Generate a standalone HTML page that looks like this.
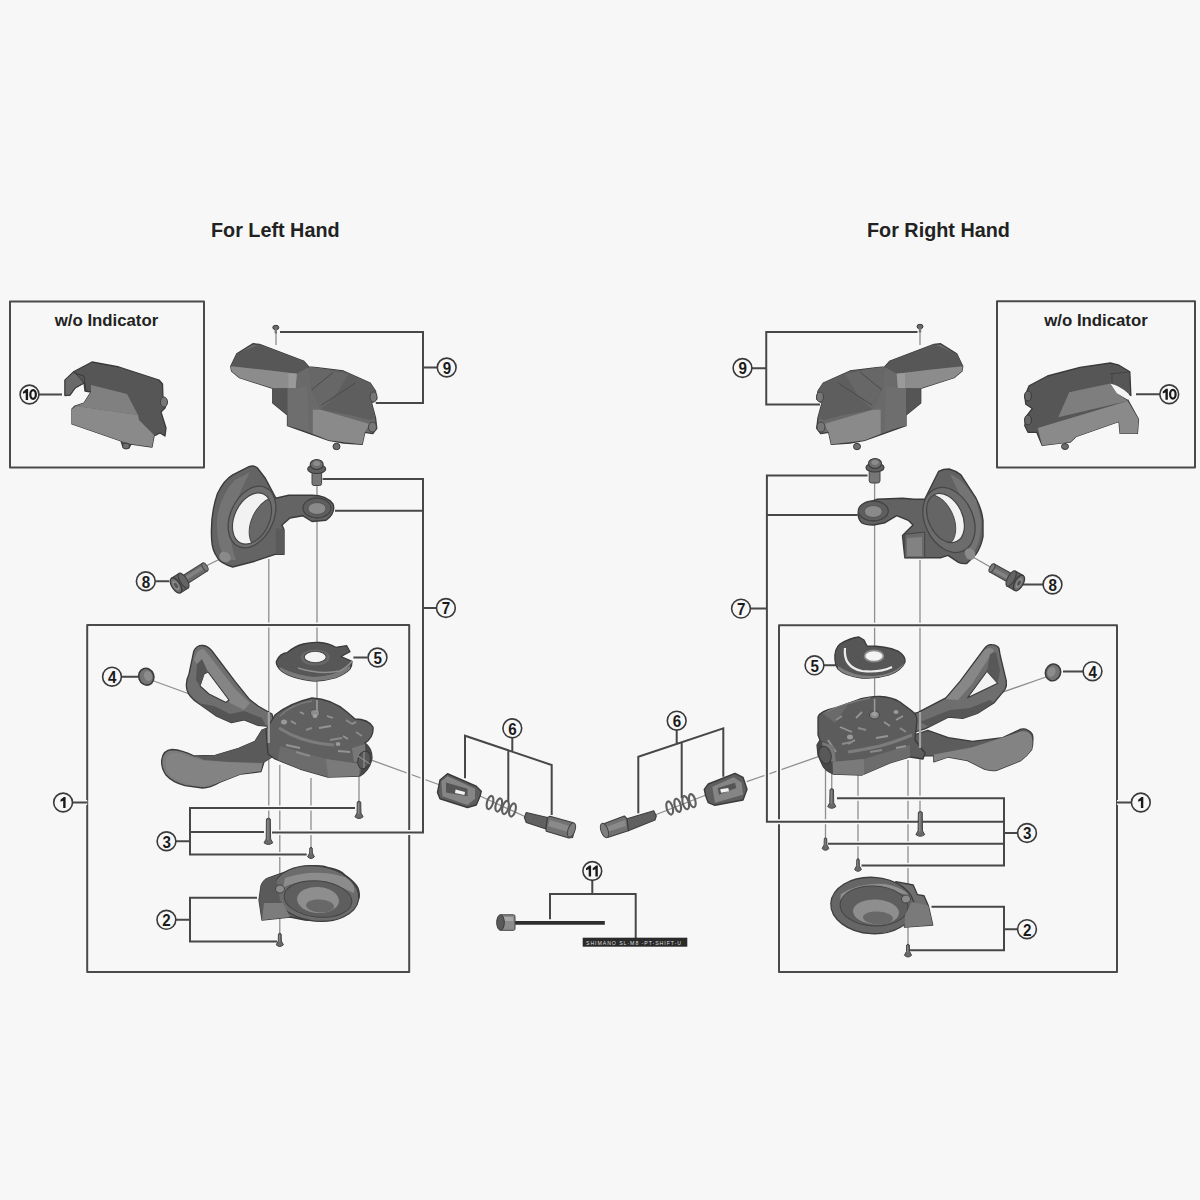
<!DOCTYPE html>
<html><head><meta charset="utf-8"><style>
html,body{margin:0;padding:0;background:#f7f7f7;}
svg{display:block;font-family:"Liberation Sans",sans-serif;-webkit-font-smoothing:antialiased;}
</style></head><body>
<svg width="1200" height="1200" viewBox="0 0 1200 1200">
<rect width="1200" height="1200" fill="#f7f7f7"/>
<text x="211" y="237" font-size="19.8" font-weight="bold" fill="#222">For Left Hand</text>
<text x="867" y="237" font-size="19.8" font-weight="bold" fill="#222">For Right Hand</text>
<text x="106.5" y="326" font-size="16.8" font-weight="bold" text-anchor="middle" fill="#222">w/o Indicator</text>
<text x="1096" y="326" font-size="16.8" font-weight="bold" text-anchor="middle" fill="#222">w/o Indicator</text>
<path d="M268.8,559 V818" fill="none" stroke="#8e8e8e" stroke-width="1.3"/>
<path d="M317,485 V705" fill="none" stroke="#8e8e8e" stroke-width="1.3"/>
<path d="M279.8,765 V935" fill="none" stroke="#8e8e8e" stroke-width="1.3"/>
<path d="M311,778 V848" fill="none" stroke="#8e8e8e" stroke-width="1.3"/>
<path d="M359,777 V801" fill="none" stroke="#8e8e8e" stroke-width="1.3"/>
<path d="M153.7,681 L440,785" fill="none" stroke="#8e8e8e" stroke-width="1.3"/>
<path d="M874.6,482 V703" fill="none" stroke="#8e8e8e" stroke-width="1.3"/>
<path d="M920,560 V812" fill="none" stroke="#8e8e8e" stroke-width="1.3"/>
<path d="M908,760 V945" fill="none" stroke="#8e8e8e" stroke-width="1.3"/>
<path d="M831.75,770 V789" fill="none" stroke="#8e8e8e" stroke-width="1.3"/>
<path d="M825.5,770 V838" fill="none" stroke="#8e8e8e" stroke-width="1.3"/>
<path d="M858,775 V859" fill="none" stroke="#8e8e8e" stroke-width="1.3"/>
<path d="M1046,677 L746.7,781.7" fill="none" stroke="#8e8e8e" stroke-width="1.3"/>
<path d="M276,332 V345" fill="none" stroke="#8e8e8e" stroke-width="1.3"/>
<path d="M204,567 L228,555" fill="none" stroke="#8e8e8e" stroke-width="1.3"/>
<path d="M992,568 L966,553" fill="none" stroke="#8e8e8e" stroke-width="1.3"/>
<path d="M480,796 L526,817" fill="none" stroke="#8e8e8e" stroke-width="1.3"/>
<path d="M706,795 L655,815" fill="none" stroke="#8e8e8e" stroke-width="1.3"/>
<path d="M920,330 V345" fill="none" stroke="#8e8e8e" stroke-width="1.3"/>
<rect x="10" y="301.5" width="194" height="166" fill="none" stroke="#f7f7f7" stroke-width="5"/>
<rect x="10" y="301.5" width="194" height="166" fill="none" stroke="#4a4a4a" stroke-width="2" stroke-linejoin="round"/>
<rect x="997" y="301.25" width="198" height="166.25" fill="none" stroke="#f7f7f7" stroke-width="5"/>
<rect x="997" y="301.25" width="198" height="166.25" fill="none" stroke="#4a4a4a" stroke-width="2" stroke-linejoin="round"/>
<rect x="87.2" y="625" width="322" height="347" fill="none" stroke="#f7f7f7" stroke-width="5"/>
<rect x="87.2" y="625" width="322" height="347" fill="none" stroke="#4a4a4a" stroke-width="2" stroke-linejoin="round"/>
<rect x="779" y="625.2" width="338" height="346.8" fill="none" stroke="#f7f7f7" stroke-width="5"/>
<rect x="779" y="625.2" width="338" height="346.8" fill="none" stroke="#4a4a4a" stroke-width="2" stroke-linejoin="round"/>
<path d="M280,332 H423 V403 H375.8 M423,367.5 H437" fill="none" stroke="#f7f7f7" stroke-width="5"/>
<path d="M280,332 H423 V403 H375.8 M423,367.5 H437" fill="none" stroke="#474747" stroke-width="2.0"/>
<path d="M917.5,332 H766.25 V404.6 H820 M752,368.2 H766.25" fill="none" stroke="#f7f7f7" stroke-width="5"/>
<path d="M917.5,332 H766.25 V404.6 H820 M752,368.2 H766.25" fill="none" stroke="#474747" stroke-width="2.0"/>
<path d="M322.6,479 H423 V832.5 H272 M335,510.7 H423 M423,608 H436" fill="none" stroke="#f7f7f7" stroke-width="5"/>
<path d="M322.6,479 H423 V832.5 H272 M335,510.7 H423 M423,608 H436" fill="none" stroke="#474747" stroke-width="2.0"/>
<path d="M867.5,475.4 H766.9 V821.8 H919.3 M857.6,515 H766.9 M750.5,608.6 H766.9" fill="none" stroke="#f7f7f7" stroke-width="5"/>
<path d="M867.5,475.4 H766.9 V821.8 H919.3 M857.6,515 H766.9 M750.5,608.6 H766.9" fill="none" stroke="#474747" stroke-width="2.0"/>
<path d="M72.6,802.5 H87.2 M1117,802.5 H1131" fill="none" stroke="#f7f7f7" stroke-width="5"/>
<path d="M72.6,802.5 H87.2 M1117,802.5 H1131" fill="none" stroke="#474747" stroke-width="2.0"/>
<path d="M355,808 H190 V854.6 H306.7 M190,832 H264 M176,841.25 H190" fill="none" stroke="#f7f7f7" stroke-width="5"/>
<path d="M355,808 H190 V854.6 H306.7 M190,832 H264 M176,841.25 H190" fill="none" stroke="#474747" stroke-width="2.0"/>
<path d="M837,798.3 H1004 V865.5 H861.5 M919,821.8 H1004 M828,843.8 H1004 M1004,833 H1017" fill="none" stroke="#f7f7f7" stroke-width="5"/>
<path d="M837,798.3 H1004 V865.5 H861.5 M919,821.8 H1004 M828,843.8 H1004 M1004,833 H1017" fill="none" stroke="#474747" stroke-width="2.0"/>
<path d="M257,897.7 H190 V941.6 H277 M176,919.8 H190" fill="none" stroke="#f7f7f7" stroke-width="5"/>
<path d="M257,897.7 H190 V941.6 H277 M176,919.8 H190" fill="none" stroke="#474747" stroke-width="2.0"/>
<path d="M931.5,906.8 H1004 V950.2 H908.8 M1004,929.2 H1017" fill="none" stroke="#f7f7f7" stroke-width="5"/>
<path d="M931.5,906.8 H1004 V950.2 H908.8 M1004,929.2 H1017" fill="none" stroke="#474747" stroke-width="2.0"/>
<path d="M39,394.5 H62 M1136,394.25 H1160" fill="none" stroke="#f7f7f7" stroke-width="5"/>
<path d="M39,394.5 H62 M1136,394.25 H1160" fill="none" stroke="#474747" stroke-width="2.0"/>
<path d="M155.8,581.25 H169.2 M1023,584.5 H1043" fill="none" stroke="#f7f7f7" stroke-width="5"/>
<path d="M155.8,581.25 H169.2 M1023,584.5 H1043" fill="none" stroke="#474747" stroke-width="2.0"/>
<path d="M353.4,657.5 H367.6 M824,665.3 H836" fill="none" stroke="#f7f7f7" stroke-width="5"/>
<path d="M353.4,657.5 H367.6 M824,665.3 H836" fill="none" stroke="#474747" stroke-width="2.0"/>
<path d="M122,676.7 H138 M1063,671.5 H1083" fill="none" stroke="#f7f7f7" stroke-width="5"/>
<path d="M122,676.7 H138 M1063,671.5 H1083" fill="none" stroke="#474747" stroke-width="2.0"/>
<path d="M512.3,737.7 V751.7 M465,778.3 V735.7 L551.7,765 V815 M508.3,750.3 V801.7" fill="none" stroke="#f7f7f7" stroke-width="5"/>
<path d="M512.3,737.7 V751.7 M465,778.3 V735.7 L551.7,765 V815 M508.3,750.3 V801.7" fill="none" stroke="#474747" stroke-width="2.0"/>
<path d="M676.7,730.3 V744 M638.3,813.3 V756.7 L723.3,728.3 V776.7 M681.7,742 V798.3" fill="none" stroke="#f7f7f7" stroke-width="5"/>
<path d="M676.7,730.3 V744 M638.3,813.3 V756.7 L723.3,728.3 V776.7 M681.7,742 V798.3" fill="none" stroke="#474747" stroke-width="2.0"/>
<path d="M592.3,880.6 V894 M550,919.3 V894 H635.7 V938.3" fill="none" stroke="#f7f7f7" stroke-width="5"/>
<path d="M592.3,880.6 V894 M550,919.3 V894 H635.7 V938.3" fill="none" stroke="#474747" stroke-width="2.0"/>
<polygon points="65,380 74,371.5 92,362 119,367 159,380 162.5,384 163,398 167,402 165,408 161,412 166,428 165,436 160,433 154,436 152,447 131,444 129,448 123,447 121,441 72,424 72,409 75,406 84,403 91,392 85,391 84,383 75,388 70,395 65,395.5" fill="#565656" stroke="#3a3a3a" stroke-width="1.3" stroke-linejoin="round" />
<polygon points="91,385 127,394 138,415 76,406 84,403 91,392" fill="#808080" stroke="none" stroke-width="1.2" stroke-linejoin="round" />
<polygon points="72,409 76,406 138,415 139,420 154,435 152,447 131,444 121,441 72,424" fill="#8a8a8a" stroke="none" stroke-width="1.2" stroke-linejoin="round" />
<polygon points="65,380 74,371.5 84,383 75,388 70,395 65,395.5" fill="#6a6a6a" stroke="#3a3a3a" stroke-width="1" stroke-linejoin="round" />
<path d="M74,373 L84,376 L86,391" stroke="#3a3a3a" stroke-width="1" fill="none"/>
<ellipse cx="164" cy="402" rx="3.5" ry="5" fill="#777" stroke="#444" stroke-width="1" transform="rotate(0 164 402)"/>
<ellipse cx="126" cy="446" rx="3.5" ry="3" fill="#6e6e6e" stroke="#3a3a3a" stroke-width="1" transform="rotate(0 126 446)"/>
<ellipse cx="275.8" cy="327.5" rx="3" ry="2.2" fill="#6a6a6a" stroke="#3a3a3a" stroke-width="1" transform="rotate(0 275.8 327.5)"/>
<rect x="274.6" y="328.5" width="2.4" height="5" fill="#777"/>
<path d="M211.7,540 Q210,515 217.5,493.5 Q224,480 232.7,474.8 L249,466.7 Q254,465 257.2,467.8 L265.3,478.3 L275.8,498.2 L288.7,495.3 L310.9,495.3 Q326,495 333,504 Q336,513 326,520.3 L312,521.5 L302.7,515.7 L290,518 L282,525 L284,529.7 L284,554.2 L275.8,554.2 L254.8,561.2 L232.7,567 Q220,563 217.5,557.7 Q212,550 211.7,540 Z" fill="#646464" stroke="#3a3a3a" stroke-width="1.4" stroke-linejoin="round"/>
<path d="M217,520 Q220,495 235,480 L250,472 Q240,490 232,515 Q228,540 236,560 L226,560 Q216,545 217,520 Z" fill="#747474" stroke="none" stroke-width="1.2" stroke-linejoin="round"/>
<ellipse cx="252" cy="517" rx="21.5" ry="32.5" fill="#6e6e6e" stroke="#474747" stroke-width="1.3" transform="rotate(25 252 517)"/>
<clipPath id="c7L"><ellipse cx="252" cy="518.5" rx="17.5" ry="27" transform="rotate(25 252 518.5)"/></clipPath>
<ellipse cx="252" cy="518.5" rx="17.5" ry="27" fill="#f2f2f2" stroke="none" stroke-width="1.2" transform="rotate(25 252 518.5)"/>
<g clip-path="url(#c7L)">
<ellipse cx="268" cy="523" rx="16.5" ry="27" fill="#686868" stroke="#4a4a4a" stroke-width="1" transform="rotate(25 268 523)"/>
</g>
<ellipse cx="252" cy="518.5" rx="17.5" ry="27" fill="none" stroke="#454545" stroke-width="1.2" transform="rotate(25 252 518.5)"/>
<polygon points="276,528 284,529.7 284,554.2 275.8,554.2" fill="#5a5a5a" stroke="none" stroke-width="1.2" stroke-linejoin="round" />
<ellipse cx="317" cy="508" rx="14" ry="10" fill="#5e5e5e" stroke="#444" stroke-width="1.3" transform="rotate(0 317 508)"/>
<ellipse cx="317" cy="508.5" rx="9" ry="6" fill="#8a8a8a" stroke="#555" stroke-width="1" transform="rotate(0 317 508.5)"/>
<ellipse cx="225" cy="557" rx="6" ry="5" fill="#8a8a8a" stroke="none" stroke-width="1.2" transform="rotate(30 225 557)"/>
<rect x="312" y="470" width="9.6" height="15.5" rx="2" fill="#767676" stroke="#444" stroke-width="1"/>
<ellipse cx="316.7" cy="469" rx="9" ry="4.5" fill="#606060" stroke="#3a3a3a" stroke-width="1.2" transform="rotate(0 316.7 469)"/>
<ellipse cx="316.7" cy="464.5" rx="6.5" ry="5" fill="#6e6e6e" stroke="#3a3a3a" stroke-width="1.1" transform="rotate(0 316.7 464.5)"/>
<ellipse cx="316.7" cy="463.5" rx="3.5" ry="2.5" fill="#8c8c8c" stroke="none" stroke-width="1.2" transform="rotate(0 316.7 463.5)"/>
<polygon points="186.1,584.5 207.5,570.9 202.5,563.1 181.1,576.8" fill="#6c6c6c" stroke="#444" stroke-width="1.1" stroke-linejoin="round" />
<polygon points="184.1,581.5 205.5,567.8 203.7,564.9 182.2,578.6" fill="#828282" stroke="none" stroke-width="1.2" stroke-linejoin="round" />
<ellipse cx="205" cy="567" rx="2.2" ry="4.6" fill="#7a7a7a" stroke="#444" stroke-width="1" transform="rotate(-32.53506715793501 205 567)"/>
<polygon points="180.6,592.8 188.2,587.9 179.0,573.4 171.4,578.2" fill="#5e5e5e" stroke="#3e3e3e" stroke-width="1.2" stroke-linejoin="round" />
<ellipse cx="183.58756196390485" cy="580.6596587471641" rx="3.5" ry="8.6" fill="#646464" stroke="#3e3e3e" stroke-width="1.1" transform="rotate(-32.53506715793501 183.58756196390485 580.6596587471641)"/>
<ellipse cx="176" cy="585.5" rx="4.2" ry="8.6" fill="#6e6e6e" stroke="#3a3a3a" stroke-width="1.3" transform="rotate(-32.53506715793501 176 585.5)"/>
<ellipse cx="176" cy="585.5" rx="2.6" ry="5.4" fill="#8a8a8a" stroke="none" stroke-width="1.2" transform="rotate(-32.53506715793501 176 585.5)"/>
<ellipse cx="176" cy="585.5" rx="1.6" ry="3.0" fill="#555" stroke="none" stroke-width="1.2" transform="rotate(-32.53506715793501 176 585.5)"/>
<ellipse cx="146.3" cy="676.7" rx="7.5" ry="8.5" fill="#747474" stroke="#3a3a3a" stroke-width="1.6" transform="rotate(-20 146.3 676.7)"/>
<ellipse cx="148" cy="676" rx="4" ry="5" fill="#8c8c8c" stroke="none" stroke-width="1.2" transform="rotate(-20 148 676)"/>
<path d="M276.3,661.4 Q280,653 287,652.75 Q295,646 303.3,644 Q311,642 319.6,642.5 Q328,643 335.8,647.3 L346.7,645.7 L350,651.7 L341,656.5 L352,661.4 Q352,666 350,669 Q345,674 335.8,677.7 Q325,681 314.2,681 Q302,680 292.5,676.6 Q283,673 279.5,669 Q276,665 276.3,661.4 Z" fill="#575757" stroke="#3a3a3a" stroke-width="1.3" stroke-linejoin="round"/>
<path d="M279.5,667 Q295,675 314,677 Q335,676 350,666 L350,669 Q345,674 335.8,677.7 Q325,681 314.2,681 Q302,680 292.5,676.6 Q283,673 279.5,669 Z" fill="#7a7a7a" stroke="none" stroke-width="1.2" stroke-linejoin="round"/>
<path d="M298,668 Q320,675 340,671 Q348,667 352,661" stroke="#8e8e8e" stroke-width="1.5" fill="none"/>
<ellipse cx="315.25" cy="657.5" rx="14.6" ry="8" fill="#686868" stroke="none" stroke-width="1.2" transform="rotate(0 315.25 657.5)"/>
<ellipse cx="315.25" cy="657" rx="11" ry="5.7" fill="#f4f4f4" stroke="#4a4a4a" stroke-width="1.1" transform="rotate(0 315.25 657)"/>
<path d="M193.8,651 Q197,645 203,645.5 Q208,646 212,651 L235,681.3 L249.7,699.6 L258,706 L272,714 L275,726 L266.2,726.2 L258,725.3 L244.2,719.8 L231.4,722.6 L216.7,716.1 L198.3,703.3 Q189,697 187,690 Q185,682 189,674 Z" fill="#6e6e6e" stroke="#3a3a3a" stroke-width="1.3" stroke-linejoin="round"/>
<path d="M194,660 Q197,648 204,649 L236,690 L250,703 L244,710 L230,703 L206,676 Z" fill="#858585" stroke="none" stroke-width="1.2" stroke-linejoin="round"/>
<polygon points="204,674 208,672 229,700 226,702.5 209,694 200,686" fill="#f3f3f3" stroke="#3a3a3a" stroke-width="1.1" stroke-linejoin="round" />
<polygon points="197,664 202,659 208,672 204,674 200,686 196,680" fill="#555" stroke="none" stroke-width="1.2" stroke-linejoin="round" />
<path d="M198.3,703.3 L216.7,716.1 L231.4,722.6 L244.2,719.8 L258,725.3 L266,726 L262,718 L244,711 L230,714 L214,706 Z" fill="#555" stroke="none" stroke-width="1.2" stroke-linejoin="round"/>
<path d="M161.7,760 Q163,750 172,749.5 Q182,750 194.3,756 L215.3,755.3 L238.7,748.3 L255,741.3 L262,730 L272,726 L275,755 L264,762 L260.9,771.7 L241,774 L220,782.2 Q210,788 202.5,788 L185,785.7 Q172,782 166,775 Q161,768 161.7,760 Z" fill="#7c7c7c" stroke="#3a3a3a" stroke-width="1.3" stroke-linejoin="round"/>
<path d="M194.3,756 L215.3,755.3 L238.7,748.3 L255,741.3 L262,730 L272,726 L274,756 L262,763 L230,762 L204,760 Z" fill="#5a5a5a" stroke="none" stroke-width="1.2" stroke-linejoin="round"/>
<path d="M166,758 Q170,752 178,753 Q190,757 204,761 L262,764 L261,771 L241,774 L220,782 Q208,787 196,786 Q180,783 170,776 Q164,769 166,758 Z" fill="#838383" stroke="none" stroke-width="1.2" stroke-linejoin="round"/>
<path d="M275,715 Q290,703 312,698 Q332,699 347,712 L355,719 Q368,719 373,727 Q374,737 365,743 Q372,748 372,758 Q370,770 360,776 L328,777 L300,769 L275,759 L268,754 L266,730 Z" fill="#606060" stroke="#3a3a3a" stroke-width="1.3" stroke-linejoin="round"/>
<path d="M280,746 L326,759 L360,764 L359,776 L328,777 L300,769 L278,760 Z" fill="#6c6c6c" stroke="none" stroke-width="1.2" stroke-linejoin="round"/>
<path d="M326,759 L360,764 L359,776 L328,777 Z" fill="#7a7a7a" stroke="none" stroke-width="1.2" stroke-linejoin="round"/>
<path d="M360,776 Q370,770 372,758 Q372,748 365,743 L360,752 L362,764 Z" fill="#484848" stroke="none" stroke-width="1.2" stroke-linejoin="round"/>
<path d="M280,716 Q292,704 312,701" stroke="#7a7a7a" stroke-width="1.4" fill="none"/>
<path d="M279,728 Q290,735 302,739 Q318,744 334,745" stroke="#7c7c7c" stroke-width="3" fill="none"/>
<path d="M291,721 L296,724 M319,728 L331,726 M343,736 L348,739 M300,712 L304,714 M327,716 L333,718 M352,724 L356,722 M286,745 L300,748 M338,751 L350,752" stroke="#949494" stroke-width="1.8" fill="none"/>
<path d="M352,748 L365,744 L366,760 L354,762 Z" fill="#777" stroke="none" stroke-width="1.2" stroke-linejoin="round"/>
<path d="M306,730 L312,728 M346,720 L352,724 M296,752 L310,756 M330,740 L342,738 M356,732 L362,736" stroke="#8a8a8a" stroke-width="2" fill="none"/>
<ellipse cx="284" cy="722" rx="3" ry="2.5" fill="#999" stroke="none" stroke-width="1.2" transform="rotate(0 284 722)"/>
<ellipse cx="338" cy="744" rx="2.5" ry="2" fill="#999" stroke="none" stroke-width="1.2" transform="rotate(0 338 744)"/>
<ellipse cx="315" cy="713" rx="4.5" ry="3.5" fill="#8c8c8c" stroke="#555" stroke-width="1" transform="rotate(0 315 713)"/>
<ellipse cx="315" cy="716" rx="2.5" ry="2" fill="#a0a0a0" stroke="none" stroke-width="1.2" transform="rotate(0 315 716)"/>
<ellipse cx="364" cy="760" rx="6" ry="9" fill="#585858" stroke="#3a3a3a" stroke-width="1" transform="rotate(15 364 760)"/>
<path d="M358,756 L370,764 M364,752 L364,768" stroke="#999" stroke-width="1" fill="none"/>
<path d="M357.275,802 Q359,800.2 360.725,802 L360.955,813 L363.1,816.8 Q359,820.2 354.9,816.8 L357.045,813 Z" fill="#6a6a6a" stroke="#444" stroke-width="1"/>
<path d="M358.54,803 V814" stroke="#8a8a8a" stroke-width="1.15" fill="none"/>
<path d="M266.45,819 Q268.4,817.2 270.34999999999997,819 L270.60999999999996,839 L272.8,842.8 Q268.4,846.2 263.99999999999994,842.8 L266.19,839 Z" fill="#6a6a6a" stroke="#444" stroke-width="1"/>
<path d="M267.88,820 V840" stroke="#8a8a8a" stroke-width="1.3" fill="none"/>
<path d="M309.8,848 Q311,846.2 312.2,848 L312.36,853 L314.40000000000003,856.8 Q311,860.2 307.59999999999997,856.8 L309.64,853 Z" fill="#6a6a6a" stroke="#444" stroke-width="1"/>
<path d="M310.68,849 V854" stroke="#8a8a8a" stroke-width="0.8" fill="none"/>
<path d="M278.45,934 Q279.8,932.2 281.15000000000003,934 L281.33,941 L283.40000000000003,944.8 Q279.8,948.2 276.2,944.8 L278.27000000000004,941 Z" fill="#6a6a6a" stroke="#444" stroke-width="1"/>
<path d="M279.44,935 V942" stroke="#8a8a8a" stroke-width="0.9" fill="none"/>
<path d="M262,920 L259,900 L261,886 Q263,880 268,878 L285,872 L310,866 Q322,865 330,868 Q340,870 345,875 Q355,882 358,888 Q360,894 359,898 Q357,904 353,908 L340,917 Q330,921 320,921 L305,920 L290,917 Z" fill="#646464" stroke="#3a3a3a" stroke-width="1.3" stroke-linejoin="round"/>
<ellipse cx="316" cy="893.5" rx="43" ry="27.5" fill="#6c6c6c" stroke="#3e3e3e" stroke-width="1.2" transform="rotate(8 316 893.5)"/>
<path d="M285,878 Q315,868 345,877 Q356,884 354,893 Q330,880 300,882 Q288,884 283,888 Z" fill="#8c8c8c" stroke="none" stroke-width="1.2" stroke-linejoin="round"/>
<ellipse cx="318" cy="899" rx="34" ry="18" fill="#5e5e5e" stroke="#444" stroke-width="1" transform="rotate(6 318 899)"/>
<ellipse cx="318" cy="900" rx="21" ry="13" fill="#8e8e8e" stroke="none" stroke-width="1.2" transform="rotate(4 318 900)"/>
<ellipse cx="320" cy="906" rx="14" ry="6.5" fill="#686868" stroke="none" stroke-width="1.2" transform="rotate(4 320 906)"/>
<path d="M262,920 L259,900 L261,886 Q263,880 268,878 L276,876 L280,900 L290,917 Z" fill="#5a5a5a" stroke="none" stroke-width="1.2" stroke-linejoin="round"/>
<path d="M264,903 L283,903 L290,917 L262,920 Z" fill="#7c7c7c" stroke="none" stroke-width="1.2" stroke-linejoin="round"/>
<ellipse cx="280" cy="889" rx="4.5" ry="4" fill="#8a8a8a" stroke="#444" stroke-width="1" transform="rotate(0 280 889)"/>
<polygon points="437.5,792.5 440,780 447.5,773.75 476.25,786.25 481.25,791.25 480,796.25 476.25,805 467.5,807.5 440,798.75" fill="#5e5e5e" stroke="#3a3a3a" stroke-width="1.4" stroke-linejoin="round" />
<polygon points="441.25,781.25 447.5,776.25 475,788.75 475,798.75 467.5,805 442.5,796.25" fill="#858585" stroke="none" stroke-width="1.2" stroke-linejoin="round" />
<polygon points="446,782.5 467.5,788.75 467.5,796.25 446,792.5" fill="#555" stroke="none" stroke-width="1.2" stroke-linejoin="round" />
<polygon points="455.6,789.4 465,791.9 464.4,795 455,793" fill="#f2f2f2" stroke="none" stroke-width="1.2" stroke-linejoin="round" />
<ellipse cx="490" cy="802.5" rx="3.0" ry="6.8" fill="none" stroke="#5e5e5e" stroke-width="2.1" transform="rotate(15 490 802.5)"/>
<ellipse cx="498.75" cy="805" rx="3.0" ry="6.8" fill="none" stroke="#5e5e5e" stroke-width="2.1" transform="rotate(15 498.75 805)"/>
<ellipse cx="505.5" cy="807.5" rx="3.0" ry="6.8" fill="none" stroke="#5e5e5e" stroke-width="2.1" transform="rotate(15 505.5 807.5)"/>
<ellipse cx="512.5" cy="810" rx="3.0" ry="6.8" fill="none" stroke="#5e5e5e" stroke-width="2.1" transform="rotate(15 512.5 810)"/>
<polygon points="524.4,817.5 526.25,812.5 547.5,817.5 546,829 526.25,822.5" fill="#606060" stroke="#3e3e3e" stroke-width="1.1" stroke-linejoin="round" />
<polygon points="547.5,817.5 550,816.25 572.5,822.5 575,827.5 572.5,837.5 568.75,838 546.25,831.25 546,829" fill="#727272" stroke="#3e3e3e" stroke-width="1.2" stroke-linejoin="round" />
<polygon points="550,820 570,826 568,832 548,826" fill="#8a8a8a" stroke="none" stroke-width="1.2" stroke-linejoin="round" />
<ellipse cx="571.5" cy="830" rx="3.5" ry="7.5" fill="#7e7e7e" stroke="#444" stroke-width="1" transform="rotate(20 571.5 830)"/>
<polygon points="704.3,789.3 708.3,784 735,773.3 743,777.3 747,789.3 743,800 715,805.3 708.3,802.7 705.7,796" fill="#5e5e5e" stroke="#3a3a3a" stroke-width="1.4" stroke-linejoin="round" />
<polygon points="712.3,786.7 733.7,777.3 741.7,782.7 743,794.7 715,802.7" fill="#858585" stroke="none" stroke-width="1.2" stroke-linejoin="round" />
<polygon points="717.7,788 735,782.7 736.3,788 719,794.7" fill="#555" stroke="none" stroke-width="1.2" stroke-linejoin="round" />
<polygon points="720.3,789.3 728.3,788 729,791.3 721,792.7" fill="#f2f2f2" stroke="none" stroke-width="1.2" stroke-linejoin="round" />
<ellipse cx="669.7" cy="808" rx="3.0" ry="6.8" fill="none" stroke="#5e5e5e" stroke-width="2.1" transform="rotate(-15 669.7 808)"/>
<ellipse cx="677.7" cy="805.3" rx="3.0" ry="6.8" fill="none" stroke="#5e5e5e" stroke-width="2.1" transform="rotate(-15 677.7 805.3)"/>
<ellipse cx="685.7" cy="802.7" rx="3.0" ry="6.8" fill="none" stroke="#5e5e5e" stroke-width="2.1" transform="rotate(-15 685.7 802.7)"/>
<ellipse cx="692.3" cy="800.7" rx="3.0" ry="6.8" fill="none" stroke="#5e5e5e" stroke-width="2.1" transform="rotate(-15 692.3 800.7)"/>
<polygon points="627,818.7 653.7,810.7 656.3,816 655,820 628.3,830.7" fill="#606060" stroke="#3e3e3e" stroke-width="1.1" stroke-linejoin="round" />
<polygon points="603,824 624.3,816 627,818.7 628.3,830.7 608.3,837.3 603,834.7 601.7,826.7" fill="#727272" stroke="#3e3e3e" stroke-width="1.2" stroke-linejoin="round" />
<polygon points="606,827 625,820 626,826 607,832" fill="#8a8a8a" stroke="none" stroke-width="1.2" stroke-linejoin="round" />
<ellipse cx="604.5" cy="830.5" rx="3.5" ry="7.5" fill="#7e7e7e" stroke="#444" stroke-width="1" transform="rotate(-20 604.5 830.5)"/>
<path d="M512,922.9 H604.8" stroke="#2e2e2e" stroke-width="3.6"/>
<rect x="500" y="914.8" width="15" height="15.5" rx="1.5" fill="#8c8c8c" stroke="#444" stroke-width="1"/>
<rect x="502" y="917" width="11" height="4" fill="#a8a8a8"/>
<ellipse cx="500.5" cy="922.5" rx="3.8" ry="7.8" fill="#5a5a5a" stroke="#3a3a3a" stroke-width="1" transform="rotate(0 500.5 922.5)"/>
<rect x="582.7" y="937.7" width="104.6" height="9" fill="#2a2a2a"/>
<text x="586" y="945" font-size="5.2" fill="#ddd" textLength="95">SHIMANO SL·M8   -PT-SHIFT-U</text>
<polygon points="1024.75,396.6 1029.1,385.75 1047.5,376 1080,367.3 1110.3,363 1119,365.2 1129.8,371.7 1130.9,395.5 1127.7,393.3 1119,389 1110.3,383.6 1116.8,393.3 1127.7,399.8 1138.5,419.3 1137.4,433.4 1120.1,433.4 1119,421.5 1075.7,436.7 1070.3,442.1 1060.5,443.2 1042.1,445.3 1036.7,432.3 1028,432.3 1024.75,425.8 1025.8,417.2 1032.3,408.5 1025.8,404.2" fill="#565656" stroke="#3a3a3a" stroke-width="1.3" stroke-linejoin="round" />
<polygon points="1069.2,392.3 1110.3,383.6 1116.8,393.3 1127.7,401 1058.3,417.2" fill="#7e7e7e" stroke="none" stroke-width="1.2" stroke-linejoin="round" />
<polygon points="1037.75,428 1127.7,401 1138.5,419.3 1137.4,433.4 1120.1,433.4 1119,421.5 1075.7,436.7 1070.3,442.1 1060.5,443.2 1042.1,445.3" fill="#8a8a8a" stroke="none" stroke-width="1.2" stroke-linejoin="round" />
<path d="M1110.3,383.6 Q1120,386 1129,394 L1127.7,399.8 L1116.8,393.3 Z" fill="#f4f4f4" stroke="none" stroke-width="1.2" stroke-linejoin="round"/>
<path d="M1110,374 L1129,372 M1112,383 L1112,374" stroke="#444" stroke-width="1" fill="none"/>
<ellipse cx="1028" cy="420" rx="3.5" ry="5" fill="#666" stroke="#3a3a3a" stroke-width="1" transform="rotate(0 1028 420)"/>
<ellipse cx="1028" cy="396" rx="3.5" ry="5" fill="#666" stroke="#3a3a3a" stroke-width="1" transform="rotate(0 1028 396)"/>
<ellipse cx="1065" cy="446.5" rx="3.5" ry="3" fill="#6e6e6e" stroke="#3a3a3a" stroke-width="1" transform="rotate(0 1065 446.5)"/>
<polygon points="962.7,366.3 956.7,353.7 940.7,343.7 934,344.3 890,361 884.7,367 876.7,367.7 850,371 823.3,383 818,391 816.7,399 822,403 818,417.7 816.7,428.3 820.7,433.7 828.7,432.3 831.3,444.3 850,443 864.7,440.3 906,425.7 906,415 920.7,403 920.7,388.3 954,377.7 962,371" fill="#6a6a6a" stroke="#3a3a3a" stroke-width="1.3" stroke-linejoin="round" />
<polygon points="890,361 934,344.3 956.7,353.7 962.7,366.3 930,369.7 896.7,373.7 884.7,367" fill="#575757" stroke="none" stroke-width="1.2" stroke-linejoin="round" />
<polygon points="896.7,373.7 930,369.7 962.7,366.3 962,371 954,377.7 920.7,388.3 898,388.3" fill="#8c8c8c" stroke="none" stroke-width="1.2" stroke-linejoin="round" />
<polygon points="896.7,373.7 905,373 905,388 898,388.3" fill="#9a9a9a" stroke="none" stroke-width="1.2" stroke-linejoin="round" />
<polygon points="886,385.7 898,388.3 906,388 906,425.7 884.7,431" fill="#6e6e6e" stroke="none" stroke-width="1.2" stroke-linejoin="round" />
<polygon points="906,388 920.7,388.3 920.7,403 906,415" fill="#555" stroke="none" stroke-width="1.2" stroke-linejoin="round" />
<polygon points="823.3,383 850,371 876.7,367.7 884.7,367 882,388.3 872.7,409.7 843.3,415 823.3,420.3 818,417.7 822,403 816.7,399 818,391" fill="#5e5e5e" stroke="none" stroke-width="1.2" stroke-linejoin="round" />
<polygon points="845,374 876.7,367.7 884.7,367 882,388.3 872.7,409.7 858,396" fill="#676767" stroke="none" stroke-width="1.2" stroke-linejoin="round" />
<polygon points="824,424 872.7,409.7 880.7,409.7 880.7,433.7 864.7,440.3 831.3,444.3 828.7,432.3" fill="#8a8a8a" stroke="none" stroke-width="1.2" stroke-linejoin="round" />
<path d="M838,383 L872,405 M860,372 L882,390" stroke="#4a4a4a" stroke-width="1" fill="none"/>
<ellipse cx="857" cy="446.5" rx="3.5" ry="3.2" fill="#6e6e6e" stroke="#3a3a3a" stroke-width="1" transform="rotate(0 857 446.5)"/>
<ellipse cx="821" cy="427" rx="4" ry="5" fill="#777" stroke="#444" stroke-width="1" transform="rotate(0 821 427)"/>
<ellipse cx="820" cy="397" rx="3.5" ry="5" fill="#777" stroke="#444" stroke-width="1" transform="rotate(0 820 397)"/>
<g transform="translate(1193.5,0) scale(-1,1)">
<polygon points="962.7,366.3 956.7,353.7 940.7,343.7 934,344.3 890,361 884.7,367 876.7,367.7 850,371 823.3,383 818,391 816.7,399 822,403 818,417.7 816.7,428.3 820.7,433.7 828.7,432.3 831.3,444.3 850,443 864.7,440.3 906,425.7 906,415 920.7,403 920.7,388.3 954,377.7 962,371" fill="#6a6a6a" stroke="#3a3a3a" stroke-width="1.3" stroke-linejoin="round" />
<polygon points="890,361 934,344.3 956.7,353.7 962.7,366.3 930,369.7 896.7,373.7 884.7,367" fill="#575757" stroke="none" stroke-width="1.2" stroke-linejoin="round" />
<polygon points="896.7,373.7 930,369.7 962.7,366.3 962,371 954,377.7 920.7,388.3 898,388.3" fill="#8c8c8c" stroke="none" stroke-width="1.2" stroke-linejoin="round" />
<polygon points="896.7,373.7 905,373 905,388 898,388.3" fill="#9a9a9a" stroke="none" stroke-width="1.2" stroke-linejoin="round" />
<polygon points="886,385.7 898,388.3 906,388 906,425.7 884.7,431" fill="#6e6e6e" stroke="none" stroke-width="1.2" stroke-linejoin="round" />
<polygon points="906,388 920.7,388.3 920.7,403 906,415" fill="#555" stroke="none" stroke-width="1.2" stroke-linejoin="round" />
<polygon points="823.3,383 850,371 876.7,367.7 884.7,367 882,388.3 872.7,409.7 843.3,415 823.3,420.3 818,417.7 822,403 816.7,399 818,391" fill="#5e5e5e" stroke="none" stroke-width="1.2" stroke-linejoin="round" />
<polygon points="845,374 876.7,367.7 884.7,367 882,388.3 872.7,409.7 858,396" fill="#676767" stroke="none" stroke-width="1.2" stroke-linejoin="round" />
<polygon points="824,424 872.7,409.7 880.7,409.7 880.7,433.7 864.7,440.3 831.3,444.3 828.7,432.3" fill="#8a8a8a" stroke="none" stroke-width="1.2" stroke-linejoin="round" />
<path d="M838,383 L872,405 M860,372 L882,390" stroke="#4a4a4a" stroke-width="1" fill="none"/>
<ellipse cx="857" cy="446.5" rx="3.5" ry="3.2" fill="#6e6e6e" stroke="#3a3a3a" stroke-width="1" transform="rotate(0 857 446.5)"/>
<ellipse cx="821" cy="427" rx="4" ry="5" fill="#777" stroke="#444" stroke-width="1" transform="rotate(0 821 427)"/>
<ellipse cx="820" cy="397" rx="3.5" ry="5" fill="#777" stroke="#444" stroke-width="1" transform="rotate(0 820 397)"/>
</g>
<ellipse cx="920" cy="326.5" rx="3" ry="2.2" fill="#6a6a6a" stroke="#3a3a3a" stroke-width="1" transform="rotate(0 920 326.5)"/>
<rect x="918.8" y="327.5" width="2.4" height="5" fill="#777"/>
<path d="M858.2,513.3 Q859,506 864,504 L876.8,499.3 L902.5,498.2 L914.2,499.3 L924.7,499.3 L938.7,471.3 Q943,469 949.2,469 Q956,471 960.9,474.8 L976,498.2 Q982,510 983,520.3 L983,536.7 Q981,547 976,554.2 L966.7,563.5 Q962,564 958.5,562.3 L948,555.3 L941,557.7 L904.8,557.7 L902.5,535.5 L913,525 L908.3,520.3 L896.7,515.7 L885,522.7 L873.3,525 Q865,525 861.7,522.7 Q858,519 858.2,513.3 Z" fill="#626262" stroke="#3a3a3a" stroke-width="1.4" stroke-linejoin="round"/>
<path d="M976,500 Q962,478 950,474 Q960,495 968,515 Q974,540 966,560 L972,556 Q982,540 981,520 Z" fill="#747474" stroke="none" stroke-width="1.2" stroke-linejoin="round"/>
<ellipse cx="949" cy="520" rx="24" ry="34" fill="#6c6c6c" stroke="#474747" stroke-width="1.3" transform="rotate(-25 949 520)"/>
<clipPath id="c7R"><ellipse cx="945.5" cy="518" rx="17" ry="26" transform="rotate(-25 945.5 518)"/></clipPath>
<ellipse cx="945.5" cy="518" rx="17" ry="26" fill="#f2f2f2" stroke="none" stroke-width="1.2" transform="rotate(-25 945.5 518)"/>
<g clip-path="url(#c7R)">
<ellipse cx="936.5" cy="520" rx="17" ry="27" fill="#656565" stroke="#4a4a4a" stroke-width="1" transform="rotate(-25 936.5 520)"/>
</g>
<ellipse cx="945.5" cy="518" rx="17" ry="26" fill="none" stroke="#454545" stroke-width="1.2" transform="rotate(-25 945.5 518)"/>
<polygon points="904.8,534.3 924.7,532 924.7,557.7 904.8,557.7" fill="#6a6a6a" stroke="#444" stroke-width="1" stroke-linejoin="round" />
<polygon points="907,538 922,537 922,556 907,556" fill="#828282" stroke="none" stroke-width="1.2" stroke-linejoin="round" />
<ellipse cx="873.3" cy="511" rx="15" ry="10" fill="#5e5e5e" stroke="#444" stroke-width="1.3" transform="rotate(0 873.3 511)"/>
<ellipse cx="873.3" cy="511.5" rx="9" ry="6" fill="#8a8a8a" stroke="#555" stroke-width="1" transform="rotate(0 873.3 511.5)"/>
<ellipse cx="970" cy="554" rx="5" ry="6" fill="#8a8a8a" stroke="none" stroke-width="1.2" transform="rotate(-30 970 554)"/>
<rect x="869.2" y="469" width="10.8" height="14" rx="2.5" fill="#767676" stroke="#444" stroke-width="1"/>
<ellipse cx="875" cy="467.5" rx="9" ry="4.5" fill="#606060" stroke="#3a3a3a" stroke-width="1.2" transform="rotate(0 875 467.5)"/>
<ellipse cx="875" cy="463.5" rx="6.5" ry="5" fill="#6e6e6e" stroke="#3a3a3a" stroke-width="1.1" transform="rotate(0 875 463.5)"/>
<ellipse cx="875" cy="462.5" rx="3.5" ry="2.5" fill="#8c8c8c" stroke="none" stroke-width="1.2" transform="rotate(0 875 462.5)"/>
<polygon points="1013.4,574.6 994.2,564.0 989.8,572.0 1008.9,582.7" fill="#6c6c6c" stroke="#444" stroke-width="1.1" stroke-linejoin="round" />
<polygon points="1011.6,577.8 992.5,567.1 990.8,570.2 1009.9,580.8" fill="#828282" stroke="none" stroke-width="1.2" stroke-linejoin="round" />
<ellipse cx="992" cy="568" rx="2.2" ry="4.6" fill="#7a7a7a" stroke="#444" stroke-width="1" transform="rotate(-150.94539590092285 992 568)"/>
<polygon points="1023.2,575.5 1015.3,571.1 1007.0,586.1 1014.8,590.5" fill="#5e5e5e" stroke="#3e3e3e" stroke-width="1.2" stroke-linejoin="round" />
<ellipse cx="1011.1325845149062" cy="578.6292136193923" rx="3.5" ry="8.6" fill="#646464" stroke="#3e3e3e" stroke-width="1.1" transform="rotate(-150.94539590092285 1011.1325845149062 578.6292136193923)"/>
<ellipse cx="1019" cy="583" rx="4.2" ry="8.6" fill="#6e6e6e" stroke="#3a3a3a" stroke-width="1.3" transform="rotate(-150.94539590092285 1019 583)"/>
<ellipse cx="1019" cy="583" rx="2.6" ry="5.4" fill="#8a8a8a" stroke="none" stroke-width="1.2" transform="rotate(-150.94539590092285 1019 583)"/>
<ellipse cx="1019" cy="583" rx="1.6" ry="3.0" fill="#555" stroke="none" stroke-width="1.2" transform="rotate(-150.94539590092285 1019 583)"/>
<ellipse cx="1053" cy="672.4" rx="7.5" ry="8.5" fill="#747474" stroke="#3a3a3a" stroke-width="1.6" transform="rotate(20 1053 672.4)"/>
<ellipse cx="1051.5" cy="672" rx="4" ry="5" fill="#8c8c8c" stroke="none" stroke-width="1.2" transform="rotate(20 1051.5 672)"/>
<path d="M835,660 Q834,649 840,644 Q850,638 859,637 L864,640 L867,646 Q886,646 898,651 Q906,656 905,662 Q902,670 889,675 Q876,679 862,678 Q845,676 838,669 Q835,665 835,660 Z" fill="#565656" stroke="#3a3a3a" stroke-width="1.3" stroke-linejoin="round"/>
<path d="M845,648 Q843,667 862,671 Q880,673 892,667" fill="none" stroke="#ececec" stroke-width="2.2" stroke-linejoin="round"/>
<path d="M838,666 Q852,676 872,676 Q895,675 905,662 Q902,670 889,675 Q876,679 862,678 Q845,676 838,669 Z" fill="#808080" stroke="none" stroke-width="1.2" stroke-linejoin="round"/>
<ellipse cx="874" cy="656" rx="9.5" ry="5.6" fill="#f4f4f4" stroke="#8a8a8a" stroke-width="1.8" transform="rotate(0 874 656)"/>
<path d="M905,716 L918.1,712.3 L945.9,697.8 L960.4,680.9 L984.5,648.3 Q988,644 991.8,644.7 Q997,645 999,648.3 L1000.2,655.5 L1006.3,680.9 Q1007,686 1005.1,689.3 L994.2,702.6 L977.3,713.5 L962.8,718.3 L948.3,717.1 L929,726.8 L924.2,729.2 L905,735 Z" fill="#6e6e6e" stroke="#3a3a3a" stroke-width="1.3" stroke-linejoin="round"/>
<path d="M946,699 L960.4,682 L984.5,650 Q990,646 994,650 L972,684 L958,700 Z" fill="#878787" stroke="none" stroke-width="1.2" stroke-linejoin="round"/>
<polygon points="987,671.2 967.6,697.8 997.8,683.3" fill="#f3f3f3" stroke="#3a3a3a" stroke-width="1.1" stroke-linejoin="round" />
<polygon points="987,671.2 990,654 996,652 1000,670 997.8,683.3" fill="#585858" stroke="none" stroke-width="1.2" stroke-linejoin="round" />
<path d="M929,726.8 L948.3,717.1 L962.8,718.3 L977.3,713.5 L994.2,702.6 L990,700 L970,708 L950,710 L930,718 L920,722 Z" fill="#575757" stroke="none" stroke-width="1.2" stroke-linejoin="round"/>
<path d="M927.8,730.4 L948.3,737.7 L972.5,741.3 L1002.7,737.7 L1020.8,729.2 Q1026,728 1028,730.4 Q1033,733 1032.9,737.7 Q1033,745 1031.6,749.7 Q1027,756 1020.8,760.6 L996.6,770.3 Q990,771 984.5,769.1 L967.6,760.6 L948.3,757 L933.8,761.8 L933.8,755.8 L924.2,755.8 L905,752 L905,738 Z" fill="#5c5c5c" stroke="#3a3a3a" stroke-width="1.3" stroke-linejoin="round"/>
<path d="M933.8,754.6 L972.5,747.3 L1020.8,731.6 Q1030,730 1032,738 Q1033,745 1031.6,749.7 Q1027,756 1020.8,760.6 L996.6,770.3 Q990,771 984.5,769.1 L967.6,760.6 L948.3,757 L933.8,761.8 Z" fill="#838383" stroke="none" stroke-width="1.2" stroke-linejoin="round"/>
<path d="M818,717 Q820,711 835,708 L860,699 Q872,696 880,696.5 Q892,697 900,702 L912,711 Q917,715 917,720 L916,730 L915,740 L925,753 L923,759 L910,757 L890,763 L862,775 L833,774 Q824,770 822,764 L818,755 L817,745 L820,740 L818,735 Z" fill="#5c5c5c" stroke="#3a3a3a" stroke-width="1.3" stroke-linejoin="round"/>
<path d="M822,713 L848,705 L835,723 Z" fill="#6a6a6a" stroke="none" stroke-width="1.2" stroke-linejoin="round"/>
<path d="M833,762 L864,759 L910,745 L910,757 L890,763 L862,775 L833,774 Z" fill="#6c6c6c" stroke="none" stroke-width="1.2" stroke-linejoin="round"/>
<path d="M833,762 L864,759 L864,775 L833,774 Z" fill="#7a7a7a" stroke="none" stroke-width="1.2" stroke-linejoin="round"/>
<path d="M822,764 L818,755 L817,745 L820,740 L830,745 L833,774 Q824,770 822,764 Z" fill="#484848" stroke="none" stroke-width="1.2" stroke-linejoin="round"/>
<path d="M826,712 Q845,703 870,698" stroke="#777" stroke-width="1.4" fill="none"/>
<path d="M912,735 Q895,742 880,746 Q862,750 848,752" stroke="#7c7c7c" stroke-width="3" fill="none"/>
<path d="M896,720 L903,716 M840,727 L852,732 M856,718 L862,712 M876,738 L888,736 M828,740 L836,752 M884,722 L890,726 M848,744 L855,740 M896,748 L906,746" stroke="#949494" stroke-width="1.8" fill="none"/>
<path d="M822,742 L834,746 L836,762 L824,760 Z" fill="#777" stroke="none" stroke-width="1.2" stroke-linejoin="round"/>
<path d="M858,728 L866,730 M842,744 L852,742 M900,728 L906,732 M870,752 L882,750 M836,720 L842,716" stroke="#8a8a8a" stroke-width="2" fill="none"/>
<ellipse cx="850" cy="737" rx="3" ry="2.5" fill="#999" stroke="none" stroke-width="1.2" transform="rotate(0 850 737)"/>
<ellipse cx="896" cy="712" rx="2.5" ry="2" fill="#999" stroke="none" stroke-width="1.2" transform="rotate(0 896 712)"/>
<ellipse cx="874.5" cy="715" rx="5" ry="4" fill="#8a8a8a" stroke="#444" stroke-width="1" transform="rotate(0 874.5 715)"/>
<ellipse cx="874.5" cy="714" rx="2.5" ry="2" fill="#a0a0a0" stroke="none" stroke-width="1.2" transform="rotate(0 874.5 714)"/>
<ellipse cx="825" cy="755" rx="6" ry="9" fill="#585858" stroke="#3a3a3a" stroke-width="1" transform="rotate(-15 825 755)"/>
<path d="M830.025,789.5 Q831.75,787.7 833.475,789.5 L833.705,802.8 L835.8499999999999,806.5999999999999 Q831.75,810.0 827.6500000000001,806.5999999999999 L829.795,802.8 Z" fill="#6a6a6a" stroke="#444" stroke-width="1"/>
<path d="M831.29,790.5 V803.8" stroke="#8a8a8a" stroke-width="1.15" fill="none"/>
<path d="M918.3499999999999,812.3 Q920.3,810.5 922.25,812.3 L922.51,830.8 L924.6999999999999,834.5999999999999 Q920.3,838.0 915.9,834.5999999999999 L918.0899999999999,830.8 Z" fill="#6a6a6a" stroke="#444" stroke-width="1"/>
<path d="M919.78,813.3 V831.8" stroke="#8a8a8a" stroke-width="1.3" fill="none"/>
<path d="M824.3,838.5 Q825.5,836.7 826.7,838.5 L826.86,844.8 L828.9,848.5999999999999 Q825.5,852.0 822.1,848.5999999999999 L824.14,844.8 Z" fill="#6a6a6a" stroke="#444" stroke-width="1"/>
<path d="M825.18,839.5 V845.8" stroke="#8a8a8a" stroke-width="0.8" fill="none"/>
<path d="M856.8,859.5 Q858,857.7 859.2,859.5 L859.36,865.8 L861.4,869.5999999999999 Q858,873.0 854.6,869.5999999999999 L856.64,865.8 Z" fill="#6a6a6a" stroke="#444" stroke-width="1"/>
<path d="M857.68,860.5 V866.8" stroke="#8a8a8a" stroke-width="0.8" fill="none"/>
<path d="M906.65,945 Q908,943.2 909.35,945 L909.53,951.5 L911.5999999999999,955.3 Q908,958.7 904.4000000000001,955.3 L906.47,951.5 Z" fill="#6a6a6a" stroke="#444" stroke-width="1"/>
<path d="M907.64,946 V952.5" stroke="#8a8a8a" stroke-width="0.9" fill="none"/>
<path d="M895.8,881.7 L913.2,885 L917.5,894.7 L924,895.75 L928.3,905.5 L932.7,925 L904.5,927.2 Z" fill="#6e6e6e" stroke="#3a3a3a" stroke-width="1.3" stroke-linejoin="round"/>
<ellipse cx="872.5" cy="905.5" rx="41.7" ry="28.2" fill="#666" stroke="#3e3e3e" stroke-width="1.3" transform="rotate(3 872.5 905.5)"/>
<path d="M841,894 Q860,882 885,884 Q905,888 910,897 Q895,889 870,889 Q850,890 840,900 Z" fill="#8e8e8e" stroke="none" stroke-width="1.2" stroke-linejoin="round"/>
<ellipse cx="874" cy="906" rx="34" ry="20" fill="#5e5e5e" stroke="#444" stroke-width="1" transform="rotate(3 874 906)"/>
<ellipse cx="876" cy="912" rx="23" ry="12.5" fill="#8e8e8e" stroke="none" stroke-width="1.2" transform="rotate(3 876 912)"/>
<ellipse cx="878" cy="918" rx="15" ry="6.5" fill="#686868" stroke="none" stroke-width="1.2" transform="rotate(3 878 918)"/>
<path d="M904.5,927.2 L932.7,925 L928.3,905.5 L912,902 L905,915 Z" fill="#7a7a7a" stroke="none" stroke-width="1.2" stroke-linejoin="round"/>
<ellipse cx="906" cy="899" rx="4.5" ry="4" fill="#8a8a8a" stroke="#444" stroke-width="1" transform="rotate(0 906 899)"/>
<path d="M268.8,712 V743" stroke="#a2a2a2" stroke-width="2.2"/>
<path d="M920,712 V748" stroke="#a2a2a2" stroke-width="2.2"/>
<path d="M317,700 V712" stroke="#9a9a9a" stroke-width="1.6"/>
<path d="M874.6,699 V712" stroke="#9a9a9a" stroke-width="1.6"/>
<circle cx="29.5" cy="394.5" r="9.4" fill="#f7f7f7" stroke="#3a3a3a" stroke-width="1.6"/>
<path d="M28.099999999999998,389.1 V399.90000000000003 H25.7 V392.70000000000005 L23.0,393.70000000000005 V391.70000000000005 L26.299999999999997,389.1 Z" fill="#1a1a1a"/>
<ellipse cx="33.1" cy="394.5" rx="2.75" ry="4.300000000000001" fill="none" stroke="#1a1a1a" stroke-width="2.2"/>
<circle cx="1169.25" cy="394.25" r="9.4" fill="#f7f7f7" stroke="#3a3a3a" stroke-width="1.6"/>
<path d="M1167.8500000000001,388.85 V399.65000000000003 H1165.45 V392.45000000000005 L1162.75,393.45000000000005 V391.45000000000005 L1166.0500000000002,388.85 Z" fill="#1a1a1a"/>
<ellipse cx="1172.85" cy="394.25" rx="2.75" ry="4.300000000000001" fill="none" stroke="#1a1a1a" stroke-width="2.2"/>
<circle cx="446.7" cy="367.5" r="9.4" fill="#f7f7f7" stroke="#3a3a3a" stroke-width="1.6"/>
<text x="0" y="0" font-size="16" font-weight="bold" text-anchor="middle" fill="#1a1a1a" transform="translate(446.9,373.8) scale(0.95,1)">9</text>
<circle cx="742.5" cy="368" r="9.4" fill="#f7f7f7" stroke="#3a3a3a" stroke-width="1.6"/>
<text x="0" y="0" font-size="16" font-weight="bold" text-anchor="middle" fill="#1a1a1a" transform="translate(742.7,374.3) scale(0.95,1)">9</text>
<circle cx="445.9" cy="608" r="9.4" fill="#f7f7f7" stroke="#3a3a3a" stroke-width="1.6"/>
<text x="0" y="0" font-size="16" font-weight="bold" text-anchor="middle" fill="#1a1a1a" transform="translate(446.09999999999997,614.3) scale(0.95,1)">7</text>
<circle cx="741" cy="608.6" r="9.4" fill="#f7f7f7" stroke="#3a3a3a" stroke-width="1.6"/>
<text x="0" y="0" font-size="16" font-weight="bold" text-anchor="middle" fill="#1a1a1a" transform="translate(741.2,614.9) scale(0.95,1)">7</text>
<circle cx="145.8" cy="581.25" r="9.4" fill="#f7f7f7" stroke="#3a3a3a" stroke-width="1.6"/>
<text x="0" y="0" font-size="16" font-weight="bold" text-anchor="middle" fill="#1a1a1a" transform="translate(146.0,587.55) scale(0.95,1)">8</text>
<circle cx="1052.5" cy="584.5" r="9.4" fill="#f7f7f7" stroke="#3a3a3a" stroke-width="1.6"/>
<text x="0" y="0" font-size="16" font-weight="bold" text-anchor="middle" fill="#1a1a1a" transform="translate(1052.7,590.8) scale(0.95,1)">8</text>
<circle cx="63.1" cy="802.5" r="9.4" fill="#f7f7f7" stroke="#3a3a3a" stroke-width="1.6"/>
<path d="M65.60000000000001,797.1 V807.9 H63.2 V800.7 L60.50000000000001,801.7 V799.7 L63.800000000000004,797.1 Z" fill="#1a1a1a"/>
<circle cx="1140.8" cy="802.5" r="9.4" fill="#f7f7f7" stroke="#3a3a3a" stroke-width="1.6"/>
<path d="M1143.3,797.1 V807.9 H1140.8999999999999 V800.7 L1138.1999999999998,801.7 V799.7 L1141.5,797.1 Z" fill="#1a1a1a"/>
<circle cx="377.5" cy="657.5" r="9.4" fill="#f7f7f7" stroke="#3a3a3a" stroke-width="1.6"/>
<text x="0" y="0" font-size="16" font-weight="bold" text-anchor="middle" fill="#1a1a1a" transform="translate(377.7,663.8) scale(0.95,1)">5</text>
<circle cx="814.5" cy="665.3" r="9.4" fill="#f7f7f7" stroke="#3a3a3a" stroke-width="1.6"/>
<text x="0" y="0" font-size="16" font-weight="bold" text-anchor="middle" fill="#1a1a1a" transform="translate(814.7,671.5999999999999) scale(0.95,1)">5</text>
<circle cx="112" cy="676.7" r="9.4" fill="#f7f7f7" stroke="#3a3a3a" stroke-width="1.6"/>
<text x="0" y="0" font-size="16" font-weight="bold" text-anchor="middle" fill="#1a1a1a" transform="translate(112.2,683.0) scale(0.95,1)">4</text>
<circle cx="1092.5" cy="671.2" r="9.4" fill="#f7f7f7" stroke="#3a3a3a" stroke-width="1.6"/>
<text x="0" y="0" font-size="16" font-weight="bold" text-anchor="middle" fill="#1a1a1a" transform="translate(1092.7,677.5) scale(0.95,1)">4</text>
<circle cx="166.5" cy="841.25" r="9.4" fill="#f7f7f7" stroke="#3a3a3a" stroke-width="1.6"/>
<text x="0" y="0" font-size="16" font-weight="bold" text-anchor="middle" fill="#1a1a1a" transform="translate(166.7,847.55) scale(0.95,1)">3</text>
<circle cx="1027" cy="833" r="9.4" fill="#f7f7f7" stroke="#3a3a3a" stroke-width="1.6"/>
<text x="0" y="0" font-size="16" font-weight="bold" text-anchor="middle" fill="#1a1a1a" transform="translate(1027.2,839.3) scale(0.95,1)">3</text>
<circle cx="166.4" cy="919.8" r="9.4" fill="#f7f7f7" stroke="#3a3a3a" stroke-width="1.6"/>
<text x="0" y="0" font-size="16" font-weight="bold" text-anchor="middle" fill="#1a1a1a" transform="translate(166.6,926.0999999999999) scale(0.95,1)">2</text>
<circle cx="1027" cy="929.2" r="9.4" fill="#f7f7f7" stroke="#3a3a3a" stroke-width="1.6"/>
<text x="0" y="0" font-size="16" font-weight="bold" text-anchor="middle" fill="#1a1a1a" transform="translate(1027.2,935.5) scale(0.95,1)">2</text>
<circle cx="512.3" cy="728.3" r="9.4" fill="#f7f7f7" stroke="#3a3a3a" stroke-width="1.6"/>
<text x="0" y="0" font-size="16" font-weight="bold" text-anchor="middle" fill="#1a1a1a" transform="translate(512.5,734.5999999999999) scale(0.95,1)">6</text>
<circle cx="676.7" cy="720.7" r="9.4" fill="#f7f7f7" stroke="#3a3a3a" stroke-width="1.6"/>
<text x="0" y="0" font-size="16" font-weight="bold" text-anchor="middle" fill="#1a1a1a" transform="translate(676.9000000000001,727.0) scale(0.95,1)">6</text>
<circle cx="592.3" cy="871" r="9.4" fill="#f7f7f7" stroke="#3a3a3a" stroke-width="1.6"/>
<path d="M591.1,865.6 V876.4 H588.6999999999999 V869.2 L586.0,870.2 V868.2 L589.3,865.6 Z" fill="#1a1a1a"/>
<path d="M597.8,865.6 V876.4 H595.3999999999999 V869.2 L592.6999999999999,870.2 V868.2 L595.9999999999999,865.6 Z" fill="#1a1a1a"/>
</svg></body></html>
